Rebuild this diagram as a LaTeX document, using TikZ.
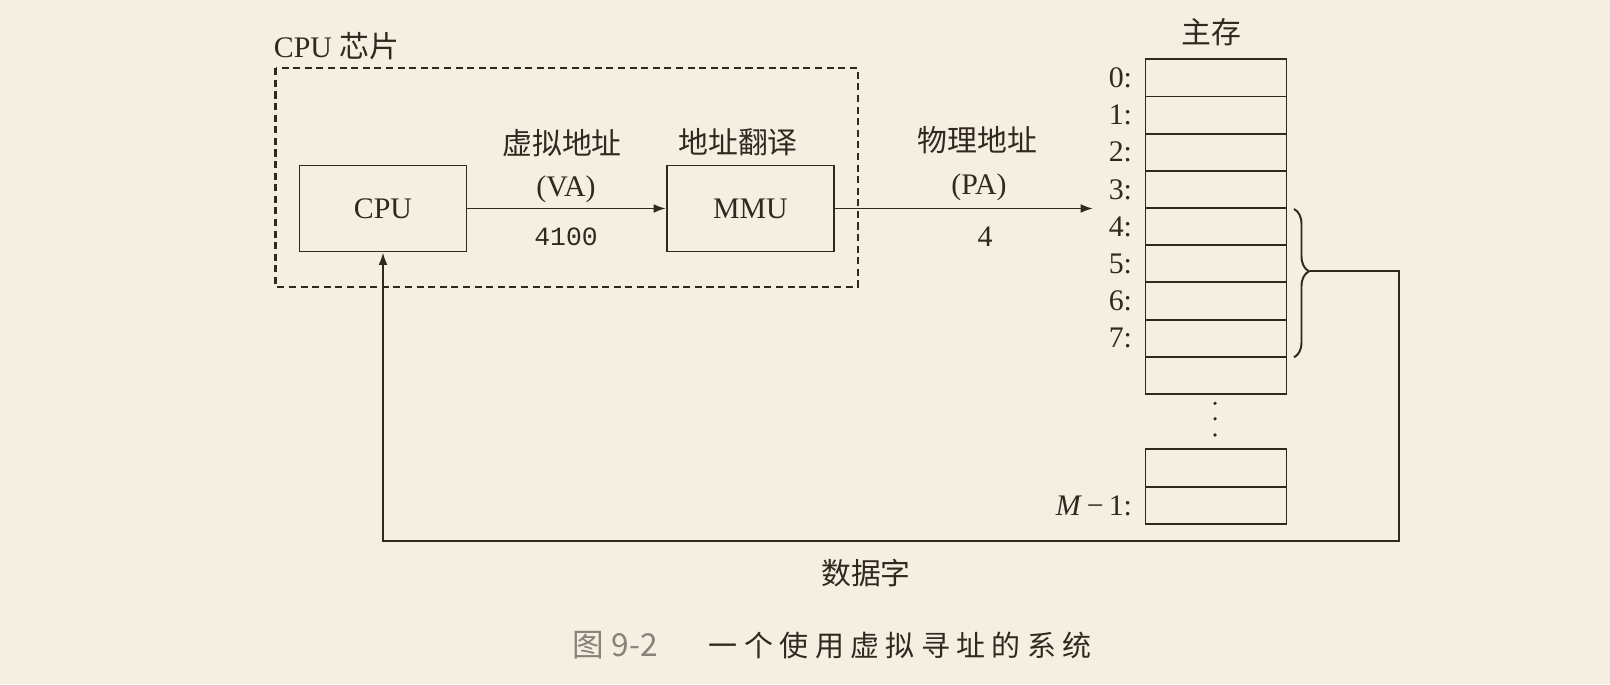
\documentclass[tikz,border=0pt]{standalone}
\usepackage{fontspec}
\setmainfont{Liberation Serif}
\setmonofont{Liberation Mono}
\newfontfamily\cjk{Noto Sans CJK SC}
\newfontfamily\cjkspaced[LetterSpace=22]{Noto Sans CJK SC}
\usetikzlibrary{arrows.meta,decorations.pathreplacing}
\definecolor{paper}{RGB}{244,239,225}
\definecolor{ink}{RGB}{50,40,33}
\definecolor{capgray}{RGB}{135,130,122}
\begin{document}
\begin{tikzpicture}[x=0.02cm, y=-0.02cm, color=ink, line width=1.1pt,
  every node/.style={font=\fontsize{17}{20}\selectfont},
  >={Latex[length=7pt,width=5pt]}]
  \tikzstyle{unit}=[draw, minimum width=3.34cm, minimum height=1.72cm, inner sep=0pt]
  \tikzstyle{cell}=[draw, minimum width=2.82cm, minimum height=0.744cm, inner sep=0pt]
  \tikzstyle{addr}=[anchor=east, inner sep=0pt]
  \tikzstyle{chipline}=[line width=1.2pt, dash pattern=on 4pt off 2.6pt]
  \fill[paper] (0,0) rectangle (1610,684);

  % Chip
  \draw[chipline] (275.5,68.3) rectangle (858,286.7);
  \node[anchor=west, inner sep=0pt] (chip) at (273,46.5) {CPU {\cjk 芯片}};

  % Node definitions
  \node[unit] (cpu) at (383,208.5) {CPU};
  \node[unit] (mmu) at (750.4,208.5) {MMU};
  \node (va) at (562,143) {\cjk 虚拟地址};
  \node (vaabbr) at (566,189) {(VA)};
  \node[font=\ttfamily\fontsize{15}{18}\selectfont] (vanum) at (566,237) {4100};
  \node (xlate) at (738,142) {\cjk 地址翻译};
  \node (pa) at (977.5,140) {\cjk 物理地址};
  \node (paabbr) at (979,187) {(PA)};
  \node (panum) at (985,237) {4};

  % Main memory
  \node (mem) at (1211,32) {\cjk 主存};
  \node[cell] (c0) at (1216,77.9) {};
  \node[cell] (c1) at (1216,115.1) {};
  \node[cell] (c2) at (1216,152.3) {};
  \node[cell] (c3) at (1216,189.5) {};
  \node[cell] (c4) at (1216,226.7) {};
  \node[cell] (c5) at (1216,263.9) {};
  \node[cell] (c6) at (1216,301.0) {};
  \node[cell] (c7) at (1216,338.2) {};
  \node[cell] (c8) at (1216,375.4) {};
  \node[cell] (d0) at (1216,468) {};
  \node[cell] (d1) at (1216,505.5) {};
  \node[addr] (l0) at (1133,77.9) {0:};
  \node[addr] (l1) at (1133,115.1) {1:};
  \node[addr] (l2) at (1133,152.3) {2:};
  \node[addr] (l3) at (1133,189.5) {3:};
  \node[addr] (l4) at (1133,226.7) {4:};
  \node[addr] (l5) at (1133,263.9) {5:};
  \node[addr] (l6) at (1133,301.0) {6:};
  \node[addr] (l7) at (1133,338.2) {7:};
  \node[addr] (lm) at (1133,505.5) {\textit{M}\,−\,1:};
  \fill (1215,403.3) circle (1.8);
  \fill (1215,418.8) circle (1.8);
  \fill (1215,435) circle (1.8);

  % Edge definitions
  \coordinate (paend) at (1093,208.5);
  \coordinate (btip) at (1310,271);
  \coordinate (corner) at (1399,541);
  \draw[->] (cpu) -- (mmu);
  \draw[->] (mmu) -- (paend);
  \draw[decorate, decoration={brace, amplitude=0.3cm, aspect=0.42}] (1294,209) -- (1294,357.3);
  \draw[->] (btip) -| (corner) -| (cpu.south);
  \node (data) at (866,573) {\cjk 数据字};

  % Caption
  \node[anchor=west, inner sep=0pt, text=capgray, font=\cjk\fontsize{18}{21}\selectfont] (capnum) at (572,645) {图 9-2};
  \node[anchor=west, inner sep=0pt, font=\cjkspaced\fontsize{16.5}{19}\selectfont] (captext) at (708,645) {一个使用虚拟寻址的系统};
\end{tikzpicture}
\end{document}
